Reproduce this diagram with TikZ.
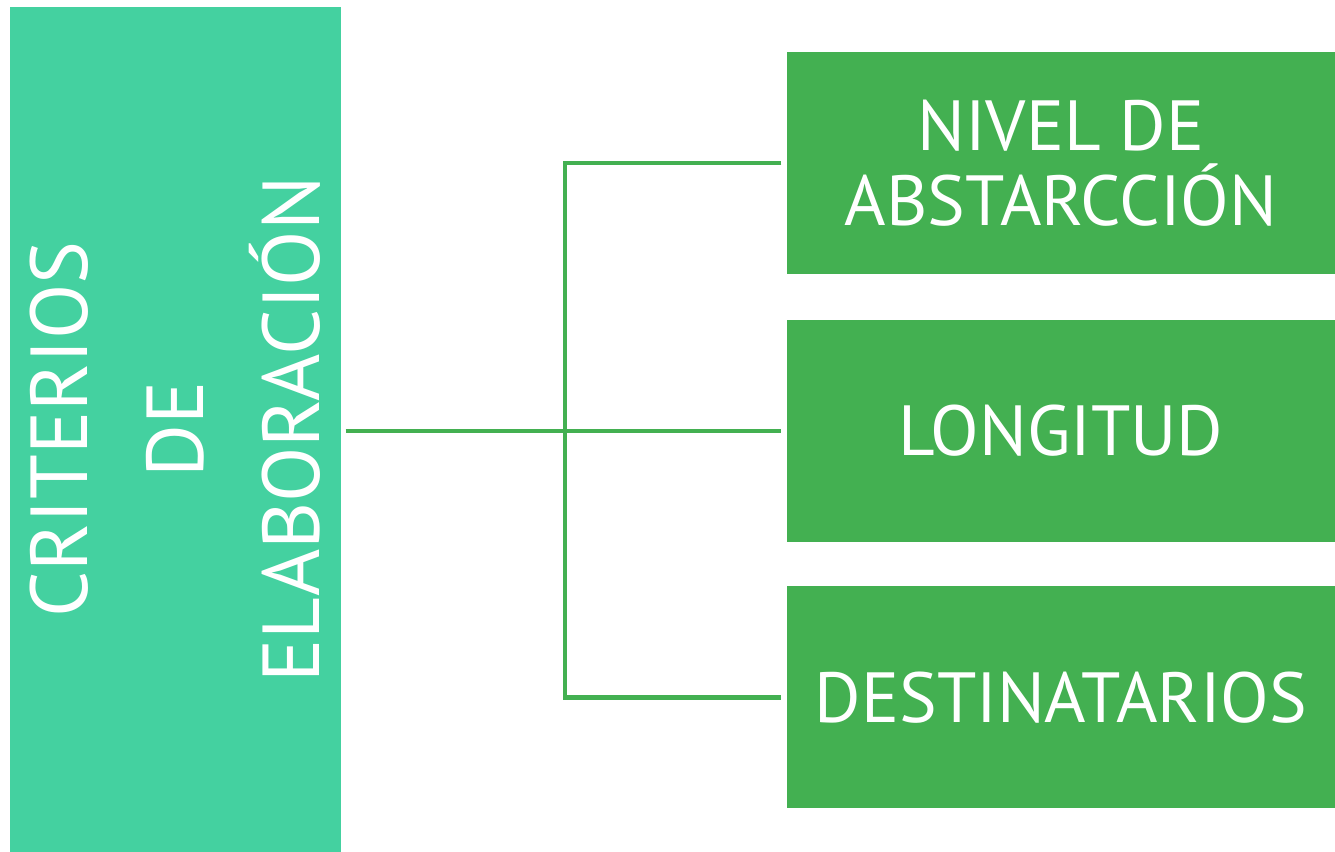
\documentclass[tikz,border=0pt]{standalone}
\usepackage{fontspec}
\setmainfont{PT Sans}
\usetikzlibrary{positioning}

\definecolor{critgreen}{RGB}{68,209,160}
\definecolor{boxgreen}{RGB}{67,176,81}

\begin{document}
\begin{tikzpicture}
\tikzstyle{every node}=[inner sep=0pt]
\tikzstyle{critbox}=[fill=critgreen,text=white,rotate=90,align=center,minimum width=8.45cm,minimum height=3.31cm,font=\fontsize{23}{33}\selectfont]
\tikzstyle{itembox}=[fill=boxgreen,text=white,align=center,minimum width=5.48cm,minimum height=2.22cm,font=\fontsize{20.2}{21.5}\selectfont]
\tikzstyle{conn}=[draw=boxgreen,line width=1.3pt]

\useasboundingbox (0,0) rectangle (13.35,8.52);

\node[critbox] (crit) at (1.755,4.225) {CRITERIOS\\DE\\ELABORACIÓN};

\node[itembox] (nivel) at (10.61,6.89) {NIVEL DE\\ABSTARCCIÓN};
\node[itembox] (long) at (10.61,4.21) {LONGITUD};
\node[itembox] (dest) at (10.61,1.545) {DESTINATARIOS};

\coordinate (j) at (5.65,4.21);

\path[conn,shorten <=0.04cm] (crit.south |- j) -- (j);
\path[conn,shorten <=0.05cm,shorten >=0.05cm] (nivel.west) -| (j) |- (dest.west);
\path[conn,shorten >=0.05cm] (j) -- (long.west);

\end{tikzpicture}
\end{document}
